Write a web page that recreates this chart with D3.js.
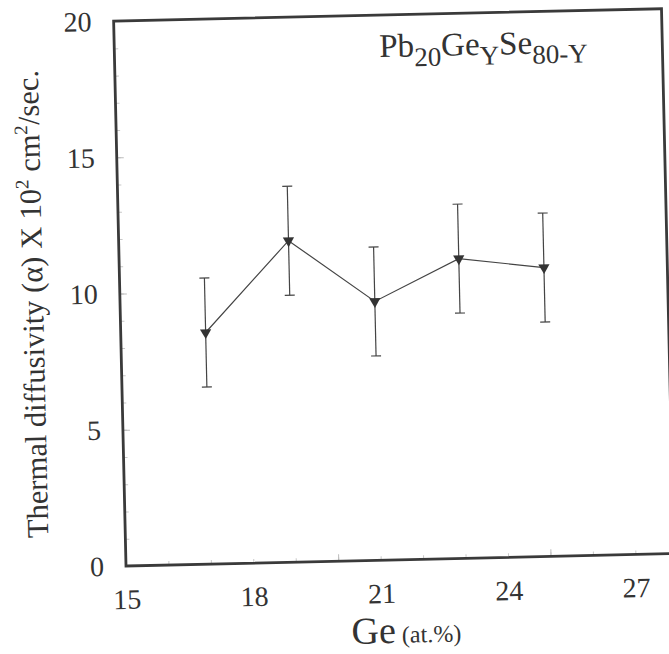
<!DOCTYPE html>
<html>
<head>
<meta charset="utf-8">
<script src="https://cdn.jsdelivr.net/npm/d3@7"></script>
<style>
  body { margin: 0; background: #fff; }
  text { fill: #333; }
</style>
</head>
<body>
<script>
// Data
const geContent = [17, 19, 21, 23, 25];
const diffusivity = [8.5, 11.8, 9.5, 11.0, 10.6];
const errorBars = [2, 2, 2, 2, 2];
const xTickLabels = [15, 18, 21, 24, 27];
const yTickLabels = [0, 5, 10, 15, 20];

const points = geContent.map((d, i) => ({ge: d, alpha: diffusivity[i], err: errorBars[i]}));

// pick the first serif face that is really installed
function pickFont(list) {
  const ctx = document.createElement("canvas").getContext("2d");
  const probe = "Thermal diffusivity 0123456789 Ge";
  for (const f of list) {
    for (const base of ["monospace", "sans-serif"]) {
      ctx.font = "30px " + base;
      const w0 = ctx.measureText(probe).width;
      ctx.font = "30px '" + f + "', " + base;
      if (ctx.measureText(probe).width !== w0) return "'" + f + "', serif";
    }
  }
  return "serif";
}
const serif = pickFont(["Liberation Serif", "Times New Roman", "Tinos", "Times", "Nimbus Roman", "DejaVu Serif", "Noto Serif", "FreeSerif"]);

// Chart dimensions (the scanned figure is tilted a little)
const width = 548;
const height = 545;
const pxPerUnit = 42.46;

const svg = d3.select("body").append("svg")
  .attr("width", 669)
  .attr("height", 654);

const g = svg.append("g")
  .attr("transform", "translate(126,566) rotate(-1.3) translate(0," + (-height) + ")");

// Scales
const x = d3.scaleLinear().domain([15, 15 + width / pxPerUnit]).range([0, width]);
const y = d3.scaleLinear().domain([0, 20]).range([height, 0]);

// Faint inner ticks
g.append("g")
  .attr("transform", "translate(0," + height + ")")
  .call(d3.axisBottom(x).tickValues(d3.range(16, 28)).tickSize(-4).tickFormat(""))
  .call(a => a.select(".domain").remove())
  .call(a => a.selectAll("line").attr("stroke", "#c8c8c8"));

g.append("g")
  .attr("transform", "translate(0," + height + ")")
  .call(d3.axisBottom(x).tickValues([20, 25]).tickSize(-7).tickFormat(""))
  .call(a => a.select(".domain").remove())
  .call(a => a.selectAll("line").attr("stroke", "#bbb"));

g.append("g")
  .call(d3.axisLeft(y).tickValues(d3.range(1, 20)).tickSize(-4).tickFormat(""))
  .call(a => a.select(".domain").remove())
  .call(a => a.selectAll("line").attr("stroke", "#c8c8c8"));

g.append("g")
  .call(d3.axisLeft(y).tickValues([5, 10, 15]).tickSize(-7).tickFormat(""))
  .call(a => a.select(".domain").remove())
  .call(a => a.selectAll("line").attr("stroke", "#bbb"));

// Tick labels
g.append("g")
  .attr("transform", "translate(0," + height + ")")
  .call(d3.axisBottom(x).tickValues(xTickLabels).tickSize(0).tickPadding(23))
  .call(a => a.select(".domain").remove())
  .selectAll("text")
  .attr("font-size", 28);

g.append("g")
  .call(d3.axisLeft(y).tickValues(yTickLabels).tickSize(0).tickPadding(22))
  .call(a => a.select(".domain").remove())
  .selectAll("text")
  .attr("font-size", 28);

// Frame
g.append("rect")
  .attr("x", 0)
  .attr("y", 0)
  .attr("width", width)
  .attr("height", height)
  .attr("fill", "none")
  .attr("stroke", "#3a3a3a")
  .attr("stroke-width", 2.8);

// Connecting line
const line = d3.line()
  .x(d => x(d.ge))
  .y(d => y(d.alpha));

g.append("path")
  .datum(points)
  .attr("d", line)
  .attr("fill", "none")
  .attr("stroke", "#444")
  .attr("stroke-width", 1.2);

// Error bars
const bars = g.selectAll(".err")
  .data(points)
  .enter().append("g")
  .attr("class", "err")
  .attr("stroke", "#444")
  .attr("stroke-width", 1.2);

bars.append("line")
  .attr("x1", d => x(d.ge))
  .attr("x2", d => x(d.ge))
  .attr("y1", d => y(d.alpha + d.err))
  .attr("y2", d => y(d.alpha - d.err));

bars.append("line")
  .attr("x1", d => x(d.ge) - 5)
  .attr("x2", d => x(d.ge) + 5)
  .attr("y1", d => y(d.alpha + d.err))
  .attr("y2", d => y(d.alpha + d.err));

bars.append("line")
  .attr("x1", d => x(d.ge) - 5)
  .attr("x2", d => x(d.ge) + 5)
  .attr("y1", d => y(d.alpha - d.err))
  .attr("y2", d => y(d.alpha - d.err));

// Down-pointing triangle markers
g.selectAll(".marker")
  .data(points)
  .enter().append("path")
  .attr("class", "marker")
  .attr("d", d3.symbol(d3.symbolTriangle).size(55))
  .attr("transform", d => "translate(" + x(d.ge) + "," + y(d.alpha) + ") rotate(180)")
  .attr("fill", "#333");

// Composition label
const title = g.append("text")
  .attr("x", 265)
  .attr("y", 42)
  .attr("font-size", 33);
title.append("tspan").text("Pb");
title.append("tspan").attr("font-size", 27).attr("dy", 10).text("20");
title.append("tspan").attr("dy", -10).text("Ge");
title.append("tspan").attr("font-size", 27).attr("dy", 10).text("Y");
title.append("tspan").attr("dy", -10).text("Se");
title.append("tspan").attr("font-size", 27).attr("dy", 10).text("80-Y");

// Y axis title
const yTitle = g.append("text")
  .attr("transform", "translate(-77," + 281 + ") rotate(-90)")
  .attr("text-anchor", "middle")
  .attr("font-size", 30.5);
yTitle.append("tspan").text("Thermal diffusivity (α) X 10");
yTitle.append("tspan").attr("font-size", 19).attr("dy", -12).text("2");
yTitle.append("tspan").attr("dy", 12).text(" cm");
yTitle.append("tspan").attr("font-size", 19).attr("dy", -12).text("2");
yTitle.append("tspan").attr("dy", 12).text("/sec.");

// X axis title
const xTitle = g.append("text")
  .attr("x", 224)
  .attr("y", 628)
  .attr("font-size", 38);
xTitle.append("tspan").text("Ge");
xTitle.append("tspan").attr("font-size", 24).attr("dx", 6).text("(at.%)");

svg.selectAll("text").style("font-family", serif).attr("fill", "#333");
</script>
</body>
</html>
